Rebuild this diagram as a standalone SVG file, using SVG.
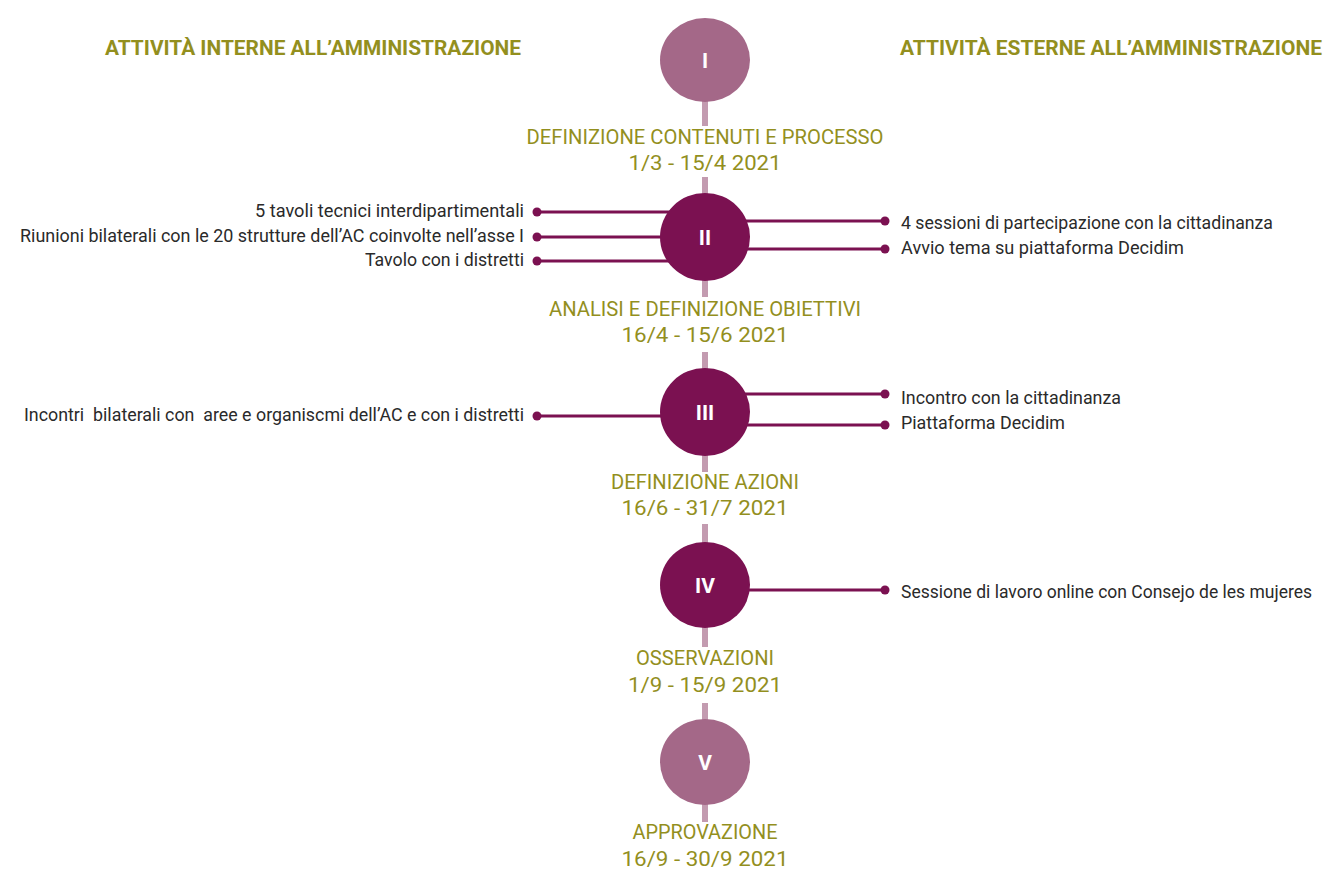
<svg xmlns="http://www.w3.org/2000/svg" width="1325" height="871" viewBox="0 0 1325 871">
  <style>
    .spine { stroke: #c39bb0; stroke-width: 6; fill: none; }
    .branch { stroke: #7b1151; stroke-width: 3; fill: none; }
    .dot { fill: #7b1151; }
    .phase-dark { fill: #7b1151; }
    .phase-light { fill: #a46888; }
    .num { font-family: Roboto, "Liberation Sans", sans-serif; font-weight: bold; font-size: 21px; fill: #ffffff; text-anchor: middle; }
    .head { font-family: Roboto, "Liberation Sans", sans-serif; font-weight: bold; font-size: 21px; fill: #938f1e; }
    .phase { font-family: Roboto, "Liberation Sans", sans-serif; font-size: 19.5px; fill: #938f1e; text-anchor: middle; }
    .act { font-family: Roboto, "Liberation Sans", sans-serif; font-size: 17.5px; fill: #2a2a2a; }
    .left { text-anchor: end; }
  </style>

  <!-- column headings -->
  <text class="head" x="105" y="55" textLength="416" lengthAdjust="spacingAndGlyphs">ATTIVITÀ INTERNE ALL’AMMINISTRAZIONE</text>
  <text class="head" x="900" y="55" textLength="422" lengthAdjust="spacingAndGlyphs">ATTIVITÀ ESTERNE ALL’AMMINISTRAZIONE</text>

  <!-- connectors: spine segments and activity branches -->
  <g id="connectors">
    <line class="spine" x1="705" y1="100" x2="705" y2="126"/>
    <line class="spine" x1="705" y1="177" x2="705" y2="196"/>
    <line class="spine" x1="705" y1="278" x2="705" y2="297"/>
    <line class="spine" x1="705" y1="352" x2="705" y2="371"/>
    <line class="spine" x1="705" y1="453" x2="705" y2="472"/>
    <line class="spine" x1="705" y1="524" x2="705" y2="545"/>
    <line class="spine" x1="705" y1="625" x2="705" y2="647"/>
    <line class="spine" x1="705" y1="703" x2="705" y2="721"/>
    <line class="spine" x1="705" y1="802" x2="705" y2="822"/>

    <!-- phase II -->
    <line class="branch" x1="537" y1="212" x2="680" y2="212"/>
    <circle class="dot" cx="537" cy="212" r="4.5"/>
    <line class="branch" x1="537" y1="237" x2="680" y2="237"/>
    <circle class="dot" cx="537" cy="237" r="4.5"/>
    <line class="branch" x1="537" y1="261" x2="680" y2="261"/>
    <circle class="dot" cx="537" cy="261" r="4.5"/>
    <line class="branch" x1="730" y1="221" x2="885" y2="221"/>
    <circle class="dot" cx="885" cy="221" r="4.5"/>
    <line class="branch" x1="730" y1="249" x2="885" y2="249"/>
    <circle class="dot" cx="885" cy="249" r="4.5"/>

    <!-- phase III -->
    <line class="branch" x1="537" y1="416" x2="680" y2="416"/>
    <circle class="dot" cx="537" cy="416" r="4.5"/>
    <line class="branch" x1="730" y1="394" x2="885" y2="394"/>
    <circle class="dot" cx="885" cy="394" r="4.5"/>
    <line class="branch" x1="730" y1="425" x2="885" y2="425"/>
    <circle class="dot" cx="885" cy="425" r="4.5"/>

    <!-- phase IV -->
    <line class="branch" x1="730" y1="590" x2="885" y2="590"/>
    <circle class="dot" cx="885" cy="590" r="4.5"/>
  </g>

  <!-- phase I -->
  <g id="phase-1">
    <ellipse class="phase-light" cx="705" cy="60" rx="45" ry="42"/>
    <text class="num" x="705" y="68">I</text>
    <text class="phase" x="705" y="144" textLength="357" lengthAdjust="spacingAndGlyphs">DEFINIZIONE CONTENUTI E PROCESSO</text>
    <text class="phase" x="705" y="170" textLength="153" lengthAdjust="spacingAndGlyphs">1/3 - 15/4 2021</text>
  </g>

  <!-- phase II -->
  <g id="phase-2">
    <ellipse class="phase-dark" cx="705" cy="237" rx="45" ry="44"/>
    <text class="num" x="705" y="245">II</text>
    <text class="phase" x="705" y="316" textLength="312" lengthAdjust="spacingAndGlyphs">ANALISI E DEFINIZIONE OBIETTIVI</text>
    <text class="phase" x="705" y="342" textLength="167" lengthAdjust="spacingAndGlyphs">16/4 - 15/6 2021</text>
  </g>
  <g id="act-2a"><text class="act left" x="524" y="217" textLength="269" lengthAdjust="spacingAndGlyphs">5 tavoli tecnici interdipartimentali</text></g>
  <g id="act-2b"><text class="act left" x="524" y="242" textLength="504" lengthAdjust="spacingAndGlyphs">Riunioni bilaterali con le 20 strutture dell’AC coinvolte nell’asse I</text></g>
  <g id="act-2c"><text class="act left" x="524" y="266" textLength="159" lengthAdjust="spacingAndGlyphs">Tavolo con i distretti</text></g>
  <g id="act-2d"><text class="act" x="901" y="229" textLength="372" lengthAdjust="spacingAndGlyphs">4 sessioni di partecipazione con la cittadinanza</text></g>
  <g id="act-2e"><text class="act" x="901" y="254" textLength="283" lengthAdjust="spacingAndGlyphs">Avvio tema su piattaforma Decidim</text></g>

  <!-- phase III -->
  <g id="phase-3">
    <ellipse class="phase-dark" cx="705" cy="412" rx="45" ry="44"/>
    <text class="num" x="705" y="420">III</text>
    <text class="phase" x="705" y="489" textLength="188" lengthAdjust="spacingAndGlyphs">DEFINIZIONE AZIONI</text>
    <text class="phase" x="705" y="515" textLength="167" lengthAdjust="spacingAndGlyphs">16/6 - 31/7 2021</text>
  </g>
  <g id="act-3a"><text class="act left" x="524" y="421" textLength="500" lengthAdjust="spacingAndGlyphs" xml:space="preserve">Incontri  bilaterali con  aree e organiscmi dell’AC e con i distretti</text></g>
  <g id="act-3b"><text class="act" x="901" y="404" textLength="220" lengthAdjust="spacingAndGlyphs">Incontro con la cittadinanza</text></g>
  <g id="act-3c"><text class="act" x="901" y="429" textLength="164" lengthAdjust="spacingAndGlyphs">Piattaforma Decidim</text></g>

  <!-- phase IV -->
  <g id="phase-4">
    <ellipse class="phase-dark" cx="705" cy="585" rx="45" ry="43"/>
    <text class="num" x="705" y="593">IV</text>
    <text class="phase" x="705" y="665" textLength="138" lengthAdjust="spacingAndGlyphs">OSSERVAZIONI</text>
    <text class="phase" x="705" y="692" textLength="154" lengthAdjust="spacingAndGlyphs">1/9 - 15/9 2021</text>
  </g>
  <g id="act-4a"><text class="act" x="901" y="598" textLength="411" lengthAdjust="spacingAndGlyphs">Sessione di lavoro online con Consejo de les mujeres</text></g>

  <!-- phase V -->
  <g id="phase-5">
    <ellipse class="phase-light" cx="705" cy="762" rx="45" ry="43"/>
    <text class="num" x="705" y="770">V</text>
    <text class="phase" x="705" y="839" textLength="145" lengthAdjust="spacingAndGlyphs">APPROVAZIONE</text>
    <text class="phase" x="705" y="866" textLength="167" lengthAdjust="spacingAndGlyphs">16/9 - 30/9 2021</text>
  </g>
</svg>
